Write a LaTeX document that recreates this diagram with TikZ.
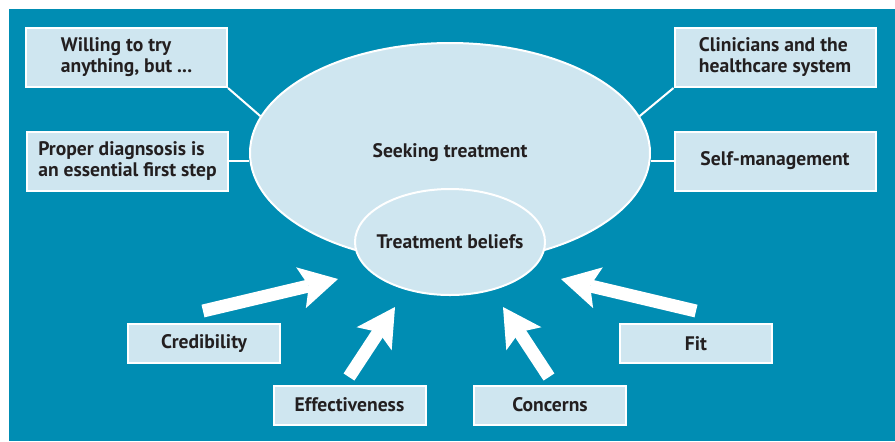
\documentclass[tikz,border=0pt]{standalone}
\usepackage{fontspec}
\setmainfont{PT Sans}
\usetikzlibrary{shapes.geometric,arrows.meta}
\definecolor{seablue}{RGB}{0,141,179}
\definecolor{paleblue}{RGB}{207,230,240}
\definecolor{inkgrey}{RGB}{35,31,32}
\tikzstyle{label font}=[font=\bfseries\fontsize{9.8}{10.5}\selectfont, text=inkgrey]
\tikzstyle{box}=[rectangle, draw=white, line width=1pt, fill=paleblue, inner sep=0pt, label font]
\tikzstyle{bigbox}=[box, minimum width=100.5pt, minimum height=29.5pt, align=left]
\tikzstyle{smallbox}=[box, minimum width=76pt, minimum height=19.5pt]
\tikzstyle{blob}=[ellipse, draw=white, line width=1pt, fill=paleblue, inner sep=0pt, label font]
\tikzstyle{link}=[white, line width=1pt]
\tikzstyle{fatarrow}=[white, line width=6.5pt, -{Stealth[length=19pt, width=21pt, inset=4pt, line width=0pt]}]

\begin{document}
\begin{tikzpicture}[x=0.5pt, y=-0.5pt]
\useasboundingbox (0,0) rectangle (895,441);
% Background
    \fill[seablue] (9,9) rectangle (895,441);

% Ellipses
    \node[blob, minimum width=200pt, minimum height=110pt] (seek) at (450,153) {Seeking treatment};
    \node[blob, inner xsep=-6pt, minimum width=95pt, minimum height=53pt] (belief) at (450,242) {Treatment beliefs};

% Boxes
    \node[bigbox] (will) at (126.5,57.5) {Willing to try\\anything, but ...};
    \node[bigbox] (diag) at (127.5,161) {Proper diagnsosis is\\an essential first step};
    \node[bigbox] (clin) at (775,57.5) {Clinicians and the\\healthcare system};
    \node[bigbox] (selfm) at (775,161) {Self-management};
    \node[smallbox] (cred) at (204,343.5) {Credibility};
    \node[smallbox] (eff) at (349.5,405) {Effectiveness};
    \node[smallbox] (conc) at (550,405) {Concerns};
    \node[smallbox] (fit) at (696,343.5) {Fit};

% Links
    \draw[link] (will.south east) -- (seek.169);
    \draw[link] (diag.east) -- (diag.east -| seek.west);
    \draw[link] (clin.south west) -- (seek.11);
    \draw[link] (selfm.west) -- (selfm.west -| seek.east);

% Arrows
    \coordinate (credtail) at (203,311);
    \coordinate (credtip) at (338,279);
    \coordinate (efftail) at (349,377);
    \coordinate (efftip) at (395,307);
    \coordinate (conctail) at (549,377);
    \coordinate (conctip) at (503,307);
    \coordinate (fittail) at (696,311);
    \coordinate (fittip) at (561,279);
    \draw[fatarrow] (credtail) -- (credtip);
    \draw[fatarrow] (efftail) -- (efftip);
    \draw[fatarrow] (conctail) -- (conctip);
    \draw[fatarrow] (fittail) -- (fittip);

\end{tikzpicture}
\end{document}
